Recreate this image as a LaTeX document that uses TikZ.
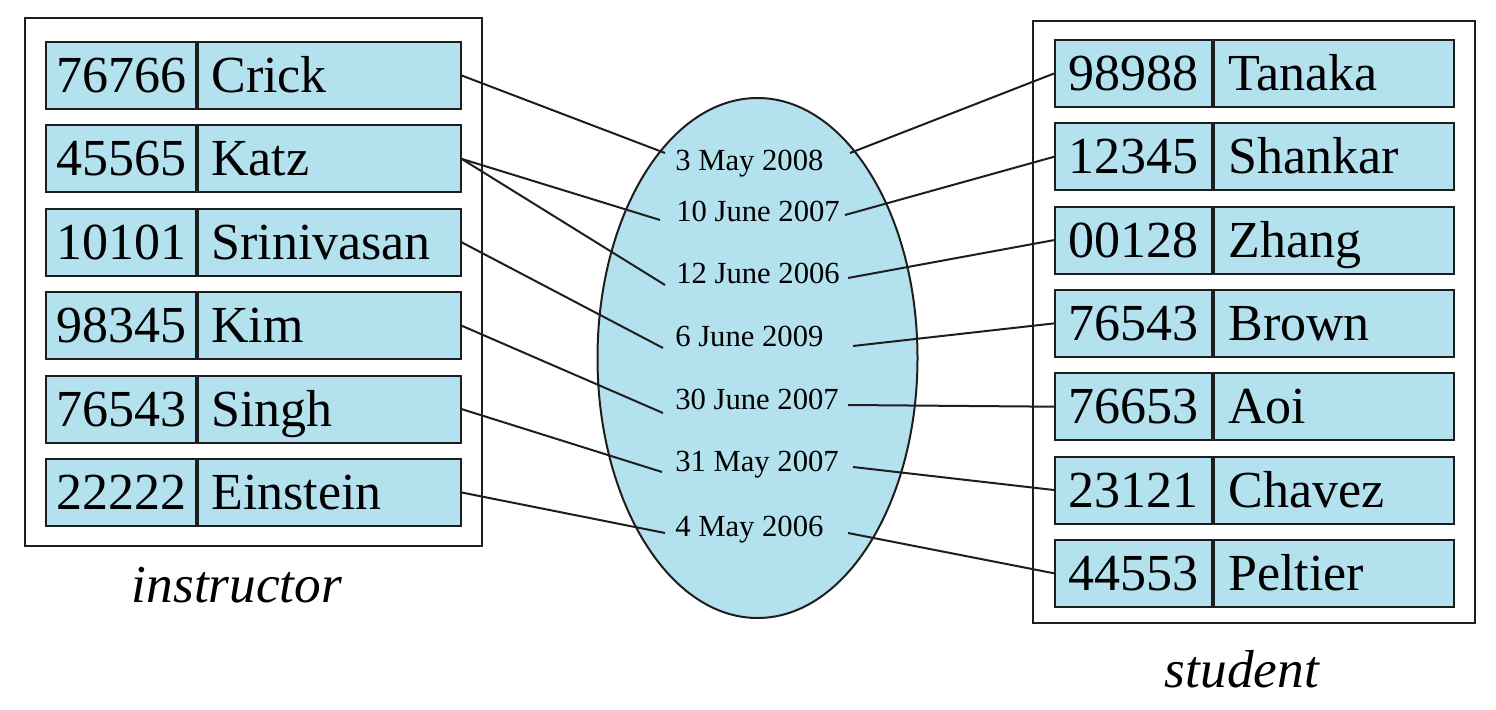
\documentclass[tikz,border=0pt]{standalone}
\usepackage{fontspec}
\setmainfont{Liberation Serif}
\definecolor{cellblue}{RGB}{180,225,238}
\definecolor{ink}{RGB}{30,30,30}
\tikzset{
  cellbase/.style={draw=ink, line width=1.5pt, fill=cellblue, minimum height=50.25pt,
    inner ysep=0pt, anchor=north west, font=\fontsize{39}{40}\selectfont,
    text height=32pt, text depth=6.5pt},
  lid/.style={cellbase, inner xsep=0pt, minimum width=112.5pt},
  lname/.style={cellbase, inner xsep=10pt},
  rid/.style={cellbase, inner xsep=0pt, minimum width=117.5pt},
  rname/.style={cellbase, inner xsep=11pt},
  datelbl/.style={anchor=base west, inner sep=0pt, font=\fontsize{23}{25}\selectfont},
  outerbox/.style={draw=ink, line width=1.5pt},
  setlbl/.style={anchor=base, inner sep=0pt, font=\fontsize{40}{40}\selectfont\itshape},
  link/.style={draw=ink, line width=1.5pt},
}
\newcommand{\lnm}[1]{\makebox[177pt][l]{#1}}
\newcommand{\rnm}[1]{\makebox[158pt][l]{#1}}
\begin{document}
\begin{tikzpicture}[x=0.75pt, y=-0.75pt]
\useasboundingbox (0,0) rectangle (1496,710);
% outer boxes
\draw[outerbox] (25,18) rectangle (482,546);
\draw[outerbox] (1033,21) rectangle (1475,623);
% ellipse
\draw[draw=ink, line width=1.5pt, fill=cellblue] (757.5,358) ellipse [x radius=160, y radius=260];
% left rows
\foreach \i/\id/\nm in {1/76766/Crick, 2/45565/Katz, 3/10101/Srinivasan, 4/98345/Kim, 5/76543/Singh, 6/22222/Einstein}{
  \node[lid] (li\i) at (45, {41+83.4*(\i-1)}) {\id};
  \node[lname] (ln\i) at (li\i.north east) {\lnm{\nm}};
}
% right rows
\foreach \i/\id/\nm in {1/98988/Tanaka, 2/12345/Shankar, 3/00128/Zhang, 4/76543/Brown, 5/76653/Aoi, 6/23121/Chavez, 7/44553/Peltier}{
  \node[rid] (ri\i) at (1054, {39+83.3*(\i-1)}) {\id};
  \node[rname] (rn\i) at (ri\i.north east) {\rnm{\nm}};
}
% dates
\node[datelbl] (d1) at (675,170) {3 May 2008};
\node[datelbl] (d2) at (676,221) {10 June 2007};
\node[datelbl] (d3) at (676,283) {12 June 2006};
\node[datelbl] (d4) at (675,346) {6 June 2009};
\node[datelbl] (d5) at (675,409) {30 June 2007};
\node[datelbl] (d6) at (675,471) {31 May 2007};
\node[datelbl] (d7) at (675,536) {4 May 2006};
% connector ends near dates
\coordinate (a1) at (665,153);
\coordinate (a2) at (660,220);
\coordinate (a3) at (665,285);
\coordinate (a4) at (663,348);
\coordinate (a5) at (663,413);
\coordinate (a6) at (662,472);
\coordinate (a7) at (665,533);
\coordinate (b1) at (850,153);
\coordinate (b2) at (845,215);
\coordinate (b3) at (848,278);
\coordinate (b4) at (853,346);
\coordinate (b5) at (848,405);
\coordinate (b6) at (853,467);
\coordinate (b7) at (848,533);
% left connectors
\draw[link] (ln1.east) -- (a1);
\draw[link] (ln2.east) -- (a2);
\draw[link] (ln2.east) -- (a3);
\draw[link] (ln3.east) -- (a4);
\draw[link] (ln4.east) -- (a5);
\draw[link] (ln5.east) -- (a6);
\draw[link] (ln6.east) -- (a7);
% right connectors
\draw[link] (b1) -- (ri1.west);
\draw[link] (b2) -- (ri2.west);
\draw[link] (b3) -- (ri3.west);
\draw[link] (b4) -- (ri4.west);
\draw[link] (b5) -- (ri5.west);
\draw[link] (b6) -- (ri6.west);
\draw[link] (b7) -- (ri7.west);
% labels
\node[setlbl] (instr) at (237,602) {instructor};
\node[setlbl] (stud) at (1242,687) {student};
\end{tikzpicture}
\end{document}
